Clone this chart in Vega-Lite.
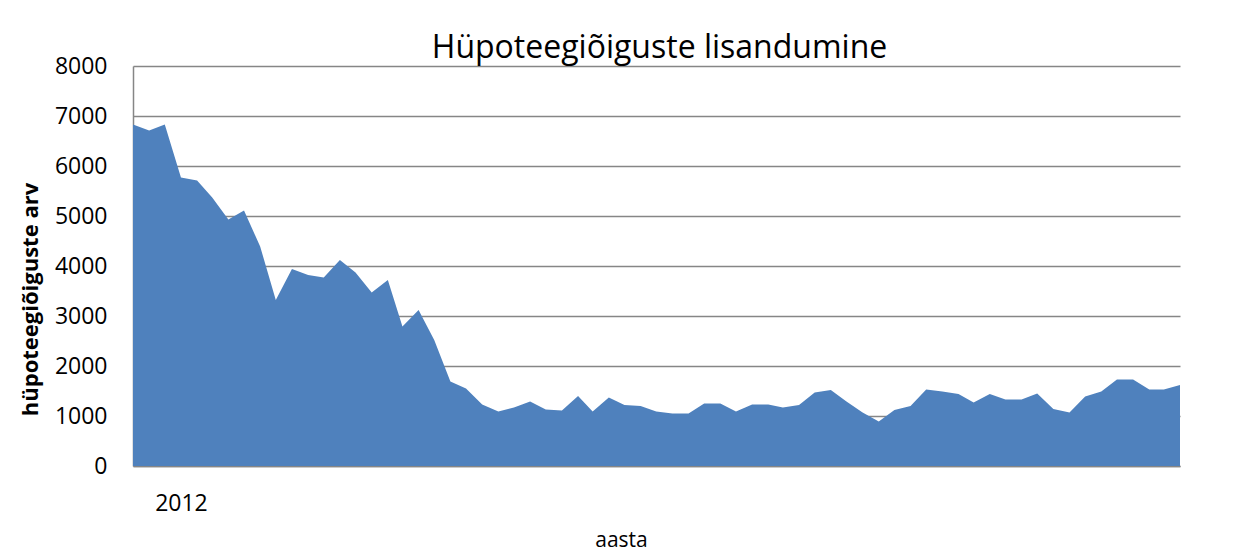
{
  "$schema": "https://vega.github.io/schema/vega-lite/v6.json",
  "autosize": "none",
  "width": 1047,
  "height": 400,
  "padding": {"left": 133, "top": 66, "right": 72, "bottom": 85},
  "background": "white",
  "title": {
    "text": "Hüpoteegiõiguste lisandumine",
    "font": "Open Sans",
    "fontSize": 32,
    "fontWeight": "normal",
    "color": "#000000",
    "anchor": "middle",
    "baseline": "alphabetic",
    "offset": 7,
    "dx": 3,
    "dy": 42
  },
  "data": {
    "values": [
      {"kuu": "2011-10-01", "arv": 6830},
      {"kuu": "2011-11-01", "arv": 6710},
      {"kuu": "2011-12-01", "arv": 6830},
      {"kuu": "2012-01-01", "arv": 5770},
      {"kuu": "2012-02-01", "arv": 5710},
      {"kuu": "2012-03-01", "arv": 5370},
      {"kuu": "2012-04-01", "arv": 4930},
      {"kuu": "2012-05-01", "arv": 5110},
      {"kuu": "2012-06-01", "arv": 4390},
      {"kuu": "2012-07-01", "arv": 3320},
      {"kuu": "2012-08-01", "arv": 3940},
      {"kuu": "2012-09-01", "arv": 3820},
      {"kuu": "2012-10-01", "arv": 3770},
      {"kuu": "2012-11-01", "arv": 4120},
      {"kuu": "2012-12-01", "arv": 3870},
      {"kuu": "2013-01-01", "arv": 3470},
      {"kuu": "2013-02-01", "arv": 3720},
      {"kuu": "2013-03-01", "arv": 2790},
      {"kuu": "2013-04-01", "arv": 3120},
      {"kuu": "2013-05-01", "arv": 2520},
      {"kuu": "2013-06-01", "arv": 1690},
      {"kuu": "2013-07-01", "arv": 1550},
      {"kuu": "2013-08-01", "arv": 1230},
      {"kuu": "2013-09-01", "arv": 1090},
      {"kuu": "2013-10-01", "arv": 1170},
      {"kuu": "2013-11-01", "arv": 1290},
      {"kuu": "2013-12-01", "arv": 1130},
      {"kuu": "2014-01-01", "arv": 1110},
      {"kuu": "2014-02-01", "arv": 1400},
      {"kuu": "2014-03-01", "arv": 1090},
      {"kuu": "2014-04-01", "arv": 1370},
      {"kuu": "2014-05-01", "arv": 1220},
      {"kuu": "2014-06-01", "arv": 1200},
      {"kuu": "2014-07-01", "arv": 1090},
      {"kuu": "2014-08-01", "arv": 1050},
      {"kuu": "2014-09-01", "arv": 1050},
      {"kuu": "2014-10-01", "arv": 1250},
      {"kuu": "2014-11-01", "arv": 1250},
      {"kuu": "2014-12-01", "arv": 1090},
      {"kuu": "2015-01-01", "arv": 1230},
      {"kuu": "2015-02-01", "arv": 1230},
      {"kuu": "2015-03-01", "arv": 1170},
      {"kuu": "2015-04-01", "arv": 1220},
      {"kuu": "2015-05-01", "arv": 1470},
      {"kuu": "2015-06-01", "arv": 1520},
      {"kuu": "2015-07-01", "arv": 1290},
      {"kuu": "2015-08-01", "arv": 1070},
      {"kuu": "2015-09-01", "arv": 890},
      {"kuu": "2015-10-01", "arv": 1120},
      {"kuu": "2015-11-01", "arv": 1200},
      {"kuu": "2015-12-01", "arv": 1530},
      {"kuu": "2016-01-01", "arv": 1490},
      {"kuu": "2016-02-01", "arv": 1440},
      {"kuu": "2016-03-01", "arv": 1270},
      {"kuu": "2016-04-01", "arv": 1440},
      {"kuu": "2016-05-01", "arv": 1330},
      {"kuu": "2016-06-01", "arv": 1330},
      {"kuu": "2016-07-01", "arv": 1450},
      {"kuu": "2016-08-01", "arv": 1140},
      {"kuu": "2016-09-01", "arv": 1070},
      {"kuu": "2016-10-01", "arv": 1390},
      {"kuu": "2016-11-01", "arv": 1490},
      {"kuu": "2016-12-01", "arv": 1730},
      {"kuu": "2017-01-01", "arv": 1730},
      {"kuu": "2017-02-01", "arv": 1530},
      {"kuu": "2017-03-01", "arv": 1530},
      {"kuu": "2017-04-01", "arv": 1620}
    ]
  },
  "mark": {"type": "area", "color": "#4F81BD", "opacity": 1},
  "encoding": {
    "x": {
      "field": "kuu",
      "type": "temporal",
      "scale": {"type": "utc", "nice": false, "padding": 0},
      "axis": {
        "values": [{"year": 2012, "month": 1, "date": 1, "utc": true}],
        "format": "%Y",
        "title": "aasta",
        "grid": false,
        "ticks": false,
        "domain": true,
        "domainColor": "#868686",
        "domainWidth": 1.5,
        "labelFont": "Open Sans",
        "labelFontSize": 23,
        "labelColor": "#000000",
        "labelPadding": 26,
        "labelAlign": "center",
        "labelBaseline": "top",
        "labelFlush": false,
        "titleFont": "Open Sans",
        "titleFontSize": 21,
        "titleFontWeight": "normal",
        "titleColor": "#000000",
        "titleX": 488,
        "titleY": 74,
        "titleAlign": "center",
        "titleBaseline": "middle"
      }
    },
    "y": {
      "field": "arv",
      "type": "quantitative",
      "scale": {"domain": [0, 8000], "nice": false},
      "axis": {
        "values": [0, 1000, 2000, 3000, 4000, 5000, 6000, 7000, 8000],
        "format": "d",
        "title": "hüpoteegiõiguste arv",
        "grid": true,
        "gridColor": "#868686",
        "gridWidth": 1.5,
        "ticks": false,
        "domain": true,
        "domainColor": "#868686",
        "domainWidth": 1.5,
        "labelFont": "Open Sans",
        "labelFontSize": 23,
        "labelColor": "#000000",
        "labelPadding": 26,
        "labelFlush": false,
        "titleFont": "Open Sans",
        "titleFontSize": 22,
        "titleFontWeight": "bold",
        "titleColor": "#000000",
        "titleAngle": -90,
        "titleX": -103,
        "titleY": 233,
        "titleAlign": "center",
        "titleBaseline": "middle"
      }
    }
  },
  "config": {
    "view": {"stroke": null},
    "axis": {"zindex": 0}
  }
}
